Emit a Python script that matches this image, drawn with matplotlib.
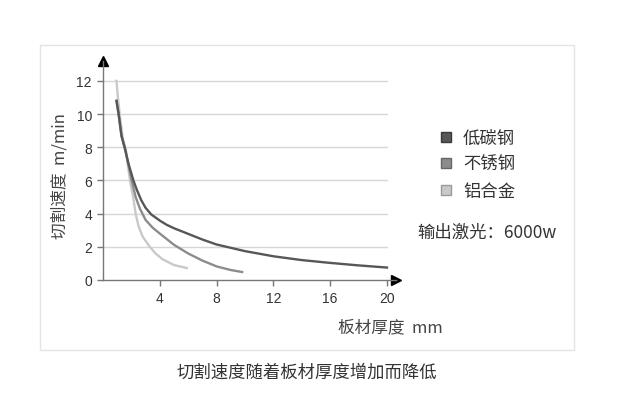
import matplotlib
matplotlib.use("Agg")
import matplotlib.pyplot as plt
from matplotlib.lines import Line2D
from matplotlib.patches import Rectangle

plt.rcParams['font.family'] = ['Noto Sans CJK SC', 'DejaVu Sans']

# thickness (mm) / cutting speed (m/min)
steel_x = [0.95, 1.1, 1.3, 1.55, 1.8, 2.14, 2.4, 2.7, 3.0, 3.4, 4, 4.5, 5, 6, 7, 8, 10, 12, 14, 16, 18, 20]
steel_y = [10.8, 10.0, 8.7, 7.9, 7.0, 6.0, 5.4, 4.8, 4.35, 3.95, 3.58, 3.32, 3.12, 2.78, 2.44, 2.14, 1.74, 1.43, 1.2, 1.03, 0.88, 0.75]

stainless_x = [0.95, 1.1, 1.3, 1.55, 1.8, 2.02, 2.3, 2.6, 3.0, 3.5, 4, 5, 6, 7, 8, 9, 9.8]
stainless_y = [10.8, 10.0, 8.7, 7.9, 6.9, 6.0, 5.0, 4.3, 3.62, 3.15, 2.8, 2.12, 1.6, 1.17, 0.82, 0.6, 0.48]

alu_x = [0.95, 1.05, 1.2, 1.4, 1.6, 1.9, 2.14, 2.3, 2.5, 2.8, 3.3, 3.7, 4.2, 5.0, 5.9]
alu_y = [12.0, 11.0, 9.8, 8.5, 7.9, 6.0, 4.9, 4.0, 3.25, 2.6, 2.0, 1.6, 1.25, 0.9, 0.72]

labels = ['低碳钢', '不锈钢', '铝合金']
colors = ['#575757', '#8c8c8c', '#c9c9c9']
edges = ['#3a3a3a', '#666666', '#9a9a9a']

x_ticks = [4, 8, 12, 16, 20]
y_ticks = [0, 2, 4, 6, 8, 10, 12]

W, H = 617, 406
fig = plt.figure(figsize=(W / 100, H / 100), dpi=100)
fig.patches.append(Rectangle((40 / W, 1 - 351 / H), 534 / W, 305 / H,
                             transform=fig.transFigure, fill=False,
                             edgecolor='#e4e4e4', lw=1))

ax = fig.add_axes([103 / W, 1 - 281 / H, 292.5 / W, 219 / H])
ax.set_xlim(0, 20.6)
ax.set_ylim(0, 13.2)

for yv in y_ticks[1:]:
    ax.plot([0, 20], [yv, yv], color='#d6d6d6', lw=1, zorder=1)

ax.plot(alu_x, alu_y, color=colors[2], lw=1.7, zorder=3)
ax.plot(stainless_x, stainless_y, color=colors[1], lw=1.7, zorder=3)
ax.plot(steel_x, steel_y, color=colors[0], lw=1.7, zorder=4)

for s in ['top', 'right']:
    ax.spines[s].set_visible(False)
for s in ['left', 'bottom']:
    ax.spines[s].set_color('#777777')
    ax.spines[s].set_linewidth(1)

# arrow heads
ax.plot(1, 0, '>', color='black', ms=7, transform=ax.transAxes, clip_on=False)
ax.plot(0, 1, '^', color='black', ms=7, transform=ax.transAxes, clip_on=False)

ax.set_xticks(x_ticks)
ax.set_yticks(y_ticks)
ax.tick_params(axis='both', length=4, width=1, color='#777777',
               labelsize=10, labelcolor='#333333', pad=4)
for t in ax.get_xticklabels() + ax.get_yticklabels():
    t.set_family('Liberation Sans')

fig.text(60 / W, 1 - 176 / H, '切割速度  m/min', rotation=90, ha='center',
         va='center', fontsize=12, color='#444444')
fig.text(390 / W, 1 - 328 / H, '板材厚度  mm', ha='center', va='center',
         fontsize=12, color='#444444')

handles = [Line2D([], [], ls='none', marker='s', ms=7.5, markerfacecolor=c,
                  markeredgecolor=e, markeredgewidth=1)
           for c, e in zip(colors, edges)]
ax.legend(handles, labels, loc='upper left', bbox_to_anchor=(430 / W, 1 - 121 / H),
          bbox_transform=fig.transFigure, frameon=False, borderpad=0,
          fontsize=12.5, handlelength=0.8, handletextpad=0.6, labelspacing=0.5,
          labelcolor='#333333')

fig.text(417 / W, 1 - 233 / H, '输出激光：6000w', ha='left', va='center',
         fontsize=12.5, color='#333333')

fig.text(307 / W, 1 - 373 / H, '切割速度随着板材厚度增加而降低', ha='center',
         va='center', fontsize=12.5, color='#333333')

fig.savefig('out.png', dpi=100)
